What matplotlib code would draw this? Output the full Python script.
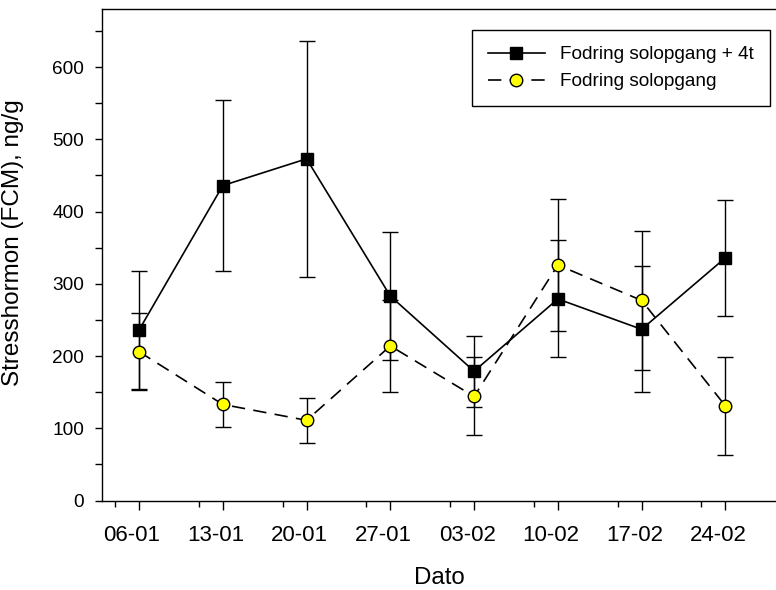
import numpy as np
import matplotlib
matplotlib.use('Agg')
import matplotlib.pyplot as plt
import matplotlib.transforms as mtransforms
from matplotlib.lines import Line2D

plt.rcParams['font.family'] = ['Liberation Sans', 'DejaVu Sans']

# data
dates = ['06-01', '13-01', '20-01', '27-01', '03-02', '10-02', '17-02', '24-02']
days = [0, 7, 14, 21, 28, 35, 42, 49]  # days after 06-01
sol4t_mean = [236, 436, 473, 283, 179, 279, 237, 336]
sol4t_err = [82, 118, 163, 89, 49, 81, 87, 80]
sol_mean = [206, 133, 111, 214, 144, 326, 277, 131]
sol_err = [53, 31, 31, 64, 54, 91, 96, 68]

fig = plt.figure(figsize=(7.76, 5.9), dpi=100)
ax = fig.add_axes([102.3 / 776, 1 - 500.5 / 590, 1 - 102.3 / 776, (500.5 - 9.3) / 590])

lw = 1.2
sol_style = dict(color='black', linewidth=lw, dashes=(8, 5), marker='o', markersize=9,
                 markerfacecolor='#ffff00', markeredgecolor='black', markeredgewidth=1.0)
sol4t_style = dict(color='black', linewidth=lw, marker='s', markersize=9,
                   markerfacecolor='black', markeredgecolor='black')

# yellow series first so the black markers sit on top of its bars
ax.errorbar(days, sol_mean, yerr=sol_err, ecolor='black', elinewidth=1.0,
            capsize=5.5, capthick=1.0, **sol_style)
ax.errorbar(days, sol4t_mean, yerr=sol4t_err, ecolor='black', elinewidth=1.0,
            capsize=5.5, capthick=1.0, **sol4t_style)

ax.set_xlim(-3.07, 53.23)
ax.set_ylim(0, 680)

ax.set_xticks(days)
ax.set_xticklabels(dates)
ax.set_xticks([d - 2 for d in days], minor=True)
ax.set_yticks(np.arange(0, 601, 100))
ax.set_yticks(np.arange(50, 651, 100), minor=True)

ax.spines['right'].set_visible(False)
for s in ax.spines.values():
    s.set_linewidth(1.0)
ax.tick_params(axis='x', which='major', direction='out', length=6.5, width=1.0,
               labelsize=16, pad=11, top=False)
ax.tick_params(axis='x', which='minor', direction='out', length=4, width=1.0, top=False)
ax.tick_params(axis='y', which='both', direction='out', length=5, width=1.0,
               labelsize=13.7, pad=8, right=False)

# shift x tick labels a little to the left like the original
offset = mtransforms.ScaledTranslation(-7 / 100, 0, fig.dpi_scale_trans)
for lab in ax.get_xticklabels():
    lab.set_transform(lab.get_transform() + offset)

ax.set_xlabel('Dato', fontsize=17.3, labelpad=15)
ax.set_ylabel('Stresshormon (FCM), ng/g', fontsize=17.5)
ax.yaxis.set_label_coords(-0.1155, 0.524)

handles = [Line2D([], [], **sol4t_style), Line2D([], [], **sol_style)]
leg = ax.legend(handles, ['Fodring solopgang + 4t', 'Fodring solopgang'],
                loc='upper right', bbox_to_anchor=(0.991, 0.958), borderaxespad=0,
                fontsize=13.7, frameon=True, fancybox=False, edgecolor='black',
                framealpha=1, handlelength=3.0, handletextpad=0.8,
                labelspacing=0.5, borderpad=0.85)
leg.get_frame().set_linewidth(1.0)

fig.savefig('out.png', dpi=100)
